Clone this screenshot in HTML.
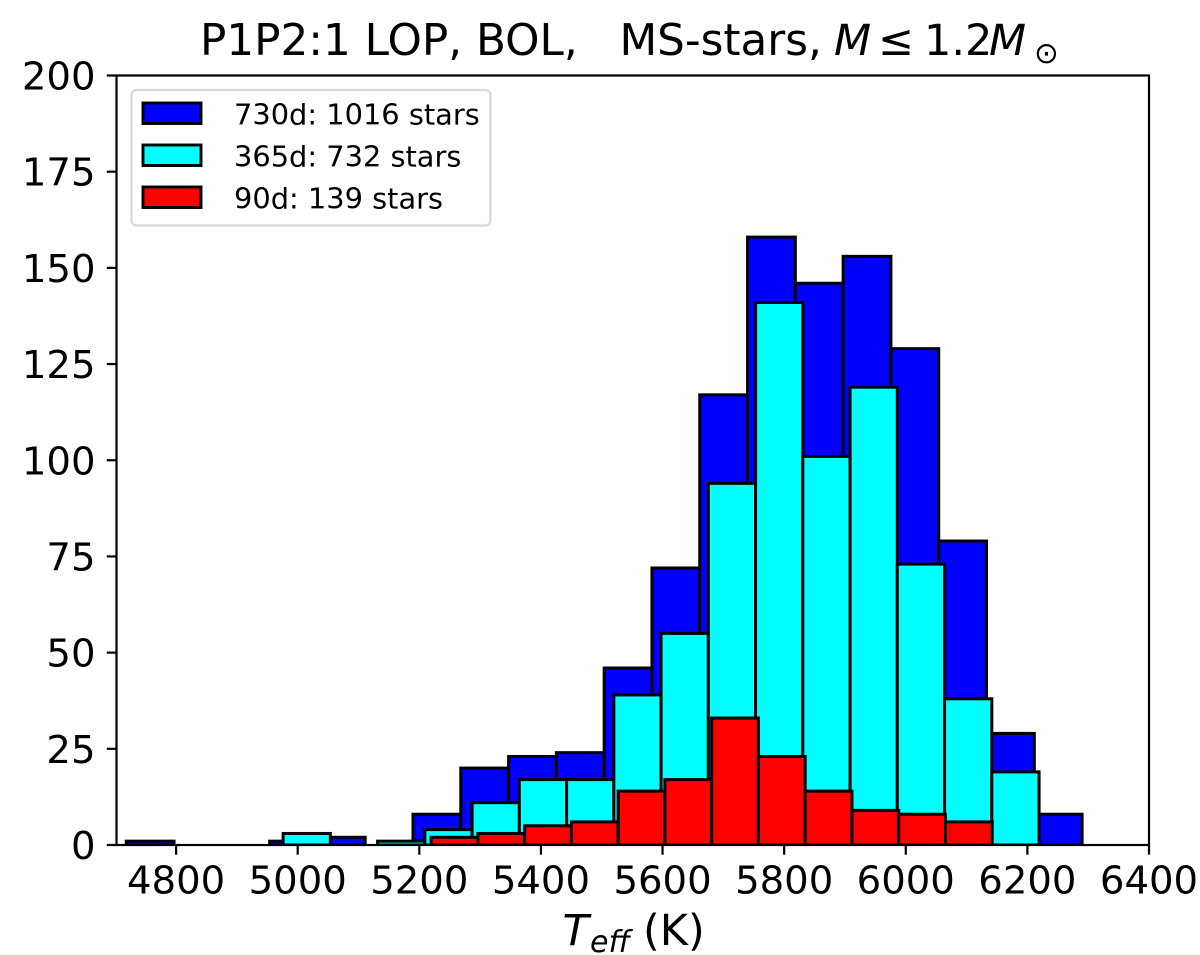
<!DOCTYPE html>
<html lang="en">
<head>
<meta charset="utf-8">
<title>P1P2:1 LOP histogram</title>
<style>
html,body{margin:0;padding:0;background:#fff;}
svg{display:block;}
text{font-family:"DejaVu Sans","Liberation Sans",sans-serif;fill:#000;white-space:pre;}
</style>
</head>
<body>
<svg id="chart" xmlns="http://www.w3.org/2000/svg" width="1200" height="955" viewBox="0 0 1200 955">
  <defs><clipPath id="axes-clip"><rect x="116.5" y="75.5" width="1032.5" height="769.5"/></clipPath></defs>
  <rect x="0" y="0" width="1200" height="955" fill="#fff"/>
  <g id="bars" clip-path="url(#axes-clip)"></g>
  <g id="spines"></g>
  <g id="ticks"></g>
  <text x="200" y="55" font-size="43.7">P1P2:1 LOP, BOL,   MS-stars, <tspan x="834" font-size="43" font-style="italic">M</tspan><tspan x="878" font-size="43">≤</tspan><tspan x="924" font-size="43">1.2</tspan><tspan x="989" font-size="43" font-style="italic">M</tspan><tspan x="1034" y="63" font-size="29.5">⊙</tspan></text>
  <text x="562.5" y="945" font-size="43"><tspan font-style="italic">T</tspan><tspan x="590" y="952" font-style="italic" font-size="30">eff</tspan><tspan x="643" y="945">(K)</tspan></text>
  <g>
    <rect x="131.5" y="90" width="359" height="135.5" rx="5" ry="5" fill="#fff" fill-opacity="0.8" stroke="#d9d9d9" stroke-width="2.2"/>
    <rect x="143" y="103" width="58" height="20.5" fill="#0000ff" stroke="#000" stroke-width="2.9"/>
    <text x="234" y="124.5" font-size="28.85">730d: 1016 stars</text>
    <rect x="143" y="145" width="58" height="20.5" fill="#00ffff" stroke="#000" stroke-width="2.9"/>
    <text x="234" y="166.5" font-size="28.85">365d: 732 stars</text>
    <rect x="143" y="187" width="58" height="20.5" fill="#ff0000" stroke="#000" stroke-width="2.9"/>
    <text x="234" y="208.5" font-size="28.85">90d: 139 stars</text>
  </g>
</svg>
<script>
const xTickValues = [4800, 5000, 5200, 5400, 5600, 5800, 6000, 6200, 6400];
const yTickValues = [0, 25, 50, 75, 100, 125, 150, 175, 200];

const blueCounts = [1, 0, 0, 1, 2, 0, 8, 20, 23, 24, 46, 72, 117, 158, 146, 153, 129, 79, 29, 8];
const blueStartK = 4718;
const blueBinK = 78.6;

const cyanCounts = [3, 0, 1, 4, 11, 17, 17, 39, 55, 94, 141, 101, 119, 73, 38, 19];
const cyanStartK = 4976;
const cyanBinK = 77.7;

const redCounts = [2, 3, 5, 6, 14, 17, 33, 23, 14, 9, 8, 6];
const redStartK = 5219.4;
const redBinK = 76.9;

const PLOT_LEFT = 116.5, PLOT_RIGHT = 1149, PLOT_TOP = 75.5, PLOT_BOTTOM = 845;
const X_MIN = 4702, X_MAX = 6400, Y_MIN = 0, Y_MAX = 200;
const NS = 'http://www.w3.org/2000/svg';

function xScale(v) {
  return PLOT_LEFT + (v - X_MIN) / (X_MAX - X_MIN) * (PLOT_RIGHT - PLOT_LEFT);
}
function yScale(v) {
  return PLOT_BOTTOM - (v - Y_MIN) / (Y_MAX - Y_MIN) * (PLOT_BOTTOM - PLOT_TOP);
}

const barsGroup = document.getElementById('bars');
const spinesGroup = document.getElementById('spines');
const ticksGroup = document.getElementById('ticks');

function drawSeries(counts, startK, binK, color, label) {
  counts.forEach(function (count, i) {
    const x0 = xScale(startK + i * binK);
    const x1 = xScale(startK + (i + 1) * binK);
    const y = yScale(count);
    const r = document.createElementNS(NS, 'rect');
    r.setAttribute('x', x0);
    r.setAttribute('y', y);
    r.setAttribute('width', x1 - x0);
    r.setAttribute('height', Math.max(0, PLOT_BOTTOM - y));
    r.setAttribute('fill', color);
    r.setAttribute('stroke', '#000');
    r.setAttribute('stroke-width', '3');
    
    
    barsGroup.appendChild(r);
  });
}
drawSeries(blueCounts, blueStartK, blueBinK, '#0000ff', '730d');
drawSeries(cyanCounts, cyanStartK, cyanBinK, '#00ffff', '365d');
drawSeries(redCounts, redStartK, redBinK, '#ff0000', '90d');

const frame = document.createElementNS(NS, 'rect');
frame.setAttribute('x', PLOT_LEFT);
frame.setAttribute('y', PLOT_TOP);
frame.setAttribute('width', PLOT_RIGHT - PLOT_LEFT);
frame.setAttribute('height', PLOT_BOTTOM - PLOT_TOP);
frame.setAttribute('fill', 'none');
frame.setAttribute('stroke', '#000');
frame.setAttribute('stroke-width', '2.2');


spinesGroup.appendChild(frame);

xTickValues.forEach(function (v) {
  const x = xScale(v);
  const line = document.createElementNS(NS, 'line');
  line.setAttribute('x1', x);
  line.setAttribute('x2', x);
  line.setAttribute('y1', PLOT_BOTTOM);
  line.setAttribute('y2', PLOT_BOTTOM + 9.7);
  line.setAttribute('stroke', '#000');
  line.setAttribute('stroke-width', '2.2');
  
  
  ticksGroup.appendChild(line);
  const t = document.createElementNS(NS, 'text');
  t.setAttribute('x', x);
  t.setAttribute('y', 893.5);
  t.setAttribute('text-anchor', 'middle');
  t.setAttribute('font-size', '38.6');
  
  
  t.textContent = String(v);
  ticksGroup.appendChild(t);
});

yTickValues.forEach(function (v) {
  const y = yScale(v);
  const line = document.createElementNS(NS, 'line');
  line.setAttribute('x1', PLOT_LEFT - 9.7);
  line.setAttribute('x2', PLOT_LEFT);
  line.setAttribute('y1', y);
  line.setAttribute('y2', y);
  line.setAttribute('stroke', '#000');
  line.setAttribute('stroke-width', '2.2');
  
  
  ticksGroup.appendChild(line);
  const t = document.createElementNS(NS, 'text');
  t.setAttribute('x', 95.5);
  t.setAttribute('y', y + 14);
  t.setAttribute('text-anchor', 'end');
  t.setAttribute('font-size', '38.6');
  
  
  t.textContent = String(v);
  ticksGroup.appendChild(t);
});
</script>
</body>
</html>
